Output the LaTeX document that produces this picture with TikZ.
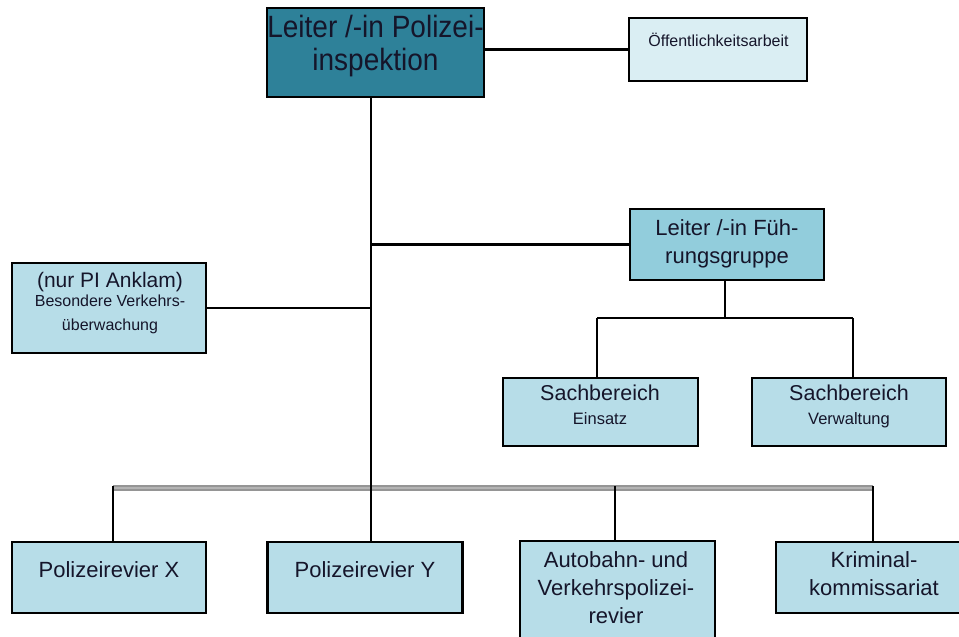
\documentclass[tikz,border=0pt]{standalone}
\usepackage{fontspec}
\setmainfont{Liberation Sans}
\begin{document}
\begin{tikzpicture}[x=1pt,y=-1pt,
  unit/.style={draw=black, line width=2.2pt, fill=boxblue, inner sep=0pt, anchor=center},
  txt/.style={anchor=base, inner sep=0pt, text=textcol},
  link/.style={draw=black, line width=2.2pt},
  fs/.style={font=\fontsize{#1}{#1}\selectfont}
]
\definecolor{textcol}{HTML}{15152A}
\definecolor{headteal}{HTML}{2E8199}
\definecolor{boxblue}{HTML}{B7DDE8}
\definecolor{midblue}{HTML}{92CDDC}
\definecolor{paleblue}{HTML}{DAEEF3}
\definecolor{busgray}{HTML}{959595}
\definecolor{buslight}{HTML}{B4B4B4}

\useasboundingbox (0,0) rectangle (959,637);

% boxes
\node[unit, fill=headteal, minimum width=217pt, minimum height=89pt] (head) at (375.5,52.5) {};
\node[unit, fill=paleblue, minimum width=178pt, minimum height=63pt] (press) at (718,49.5) {};
\node[unit, fill=midblue, minimum width=194pt, minimum height=71pt] (lead) at (727,244.5) {};
\node[unit, minimum width=194pt, minimum height=90pt] (traffic) at (109,308) {};
\node[unit, minimum width=195pt, minimum height=68pt] (ops) at (600.5,412) {};
\node[unit, minimum width=194pt, minimum height=68pt] (admin) at (849,412) {};
\node[unit, minimum width=194pt, minimum height=71pt] (revx) at (109,577.5) {};
\node[unit, minimum width=195pt, minimum height=71pt] (revy) at (365,577.5) {};
\node[unit, minimum width=195pt, minimum height=109pt] (motor) at (617.5,595.5) {};
\node[unit, minimum width=194pt, minimum height=71pt] (crime) at (873,577.5) {};

% box texts, one node per printed line
\node[txt, fs=28] (head-a) at (375.5,37) {\scalebox{1}[1.1]{Leiter /-in Polizei-}};
\node[txt, fs=28] (head-b) at (375.5,70) {\scalebox{1}[1.1]{inspektion}};
\node[txt, fs=16] (press-a) at (718.5,46) {Öffentlichkeitsarbeit};
\node[txt, fs=22] (lead-a) at (727,235) {Leiter /-in Füh-};
\node[txt, fs=22] (lead-b) at (727,263) {rungsgruppe};
\node[txt, fs=21] (traffic-a) at (110,287) {(nur PI Anklam)};
\node[txt, fs=16] (traffic-b) at (110,306) {Besondere Verkehrs-};
\node[txt, fs=16] (traffic-c) at (110,330) {überwachung};
\node[txt, fs=21.5] (ops-a) at (600,400) {Sachbereich};
\node[txt, fs=16.5] (ops-b) at (600,424) {Einsatz};
\node[txt, fs=21.5] (admin-a) at (849,400) {Sachbereich};
\node[txt, fs=16.5] (admin-b) at (849,424) {Verwaltung};
\node[txt, fs=22] (revx-a) at (109,577) {Polizeirevier X};
\node[txt, fs=22] (revy-a) at (365,577) {Polizeirevier Y};
\node[txt, fs=22] (motor-a) at (616,567) {Autobahn- und};
\node[txt, fs=22] (motor-b) at (616,595) {Verkehrspolizei-};
\node[txt, fs=22] (motor-c) at (616,623) {revier};
\node[txt, fs=22] (crime-a) at (874,567) {Kriminal-};
\node[txt, fs=22] (crime-b) at (874,595) {kommissariat};

% routing points
\coordinate (spine) at (371,0);
\coordinate (busL) at (113,488);
\coordinate (busR) at (873,488);
\coordinate (busM) at (615,488);
\coordinate (fork) at (725,318);
\coordinate (forkL) at (597,318);
\coordinate (forkR) at (853,318);

% connectors
\draw[link] (head.east |- press.west) -- (press.west);
\draw[line width=6pt, busgray] (busL) -- (busR);
\draw[line width=2.5pt, buslight] (busL) -- (busR);
\draw[link] (head.south -| spine) -- (revy.north -| spine);
\draw[link] (lead.west -| spine) -- (lead.west);
\draw[link] (traffic.east) -- (traffic.east -| spine);
\draw[link] (lead.south -| fork) -- (fork);
\draw[link] (forkL) -- (forkR);
\draw[link] (forkL) -- (ops.north -| forkL);
\draw[link] (forkR) -- (admin.north -| forkR);
\draw[link] ([yshift=2pt]busL) -- (revx.north -| busL);
\draw[link] ([yshift=2pt]busM) -- (motor.north -| busM);
\draw[link] ([yshift=2pt]busR) -- (crime.north -| busR);
\end{tikzpicture}
\end{document}
